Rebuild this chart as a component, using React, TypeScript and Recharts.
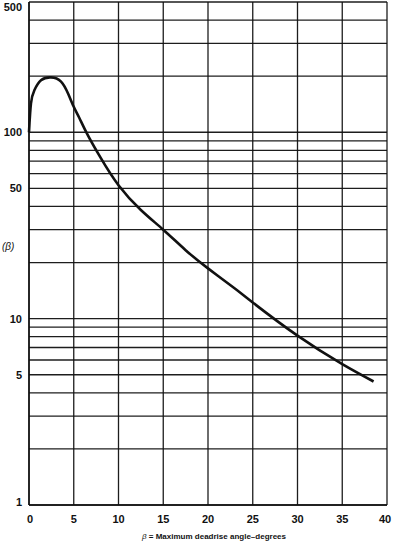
import { LineChart, Line, XAxis, YAxis, CartesianGrid } from "recharts";

// beta (degrees) vs. the function value
const betaDeg = [0, 0.22, 0.6, 1.34, 2.46, 3.58, 4.4, 5, 5.6, 6.45, 7.93, 10, 12.5, 15, 17.5, 20, 23, 25, 30, 35, 38.5];
const fValue = [100, 143, 168, 190, 197, 187, 160, 137, 120, 99, 74, 52, 38.3, 30, 23.3, 18.6, 14.5, 12.2, 8.1, 5.7, 4.6];

const xTicks = [0, 5, 10, 15, 20, 25, 30, 35, 40];
const yGrid = [1, 2, 3, 4, 5, 6, 7, 8, 9, 10, 20, 30, 40, 50, 60, 70, 80, 90, 100, 200, 300, 400, 500];
const yLabels = [1, 5, 10, 50, 100, 500];

const data = betaDeg.map((b, i) => ({ beta: b, value: fValue[i] }));

const FONT = "'Liberation Sans', Arial, sans-serif";

const YTick = ({ x, y, payload }: any) => {
  const v = payload.value;
  if (!yLabels.includes(v)) return null;
  const dy = v === 500 ? 5 : v === 1 ? -3 : 0;
  return (
    <text
      x={x + 1}
      y={y + dy}
      dy={4}
      textAnchor="end"
      fontFamily={FONT}
      fontWeight="bold"
      fontSize={11}
      fill="#111"
    >
      {v}
    </text>
  );
};

const XTick = ({ x, y, payload }: any) => {
  const v = payload.value;
  const dx = v === 40 ? -2 : v === 0 ? 1 : 0;
  return (
    <text
      x={x + dx}
      y={y + 10}
      textAnchor="middle"
      fontFamily={FONT}
      fontWeight="bold"
      fontSize={11}
      fill="#111"
    >
      {v}
    </text>
  );
};

export default function App() {
  return (
    <div style={{ position: "absolute", left: 0, top: 0, width: 393, height: 543, background: "#fff" }}>
      <LineChart width={393} height={543} data={data} margin={{ top: 2, right: 6, left: 0, bottom: 8 }}>
        <CartesianGrid stroke="#111" strokeWidth={1.3} strokeOpacity={0.95} />
        <XAxis
          dataKey="beta"
          type="number"
          domain={[0, 40]}
          ticks={xTicks}
          interval={0}
          height={30}
          axisLine={{ stroke: "#111", strokeWidth: 1.5 }}
          tickLine={false}
          tick={<XTick />}
        />
        <YAxis
          type="number"
          scale="log"
          domain={[1, 500]}
          allowDataOverflow
          ticks={yGrid}
          interval={0}
          width={29}
          axisLine={{ stroke: "#111", strokeWidth: 1.5 }}
          tickLine={false}
          tick={<YTick />}
        />
        <Line
          type="natural"
          dataKey="value"
          stroke="#111"
          strokeWidth={2.6}
          dot={false}
          isAnimationActive={false}
        />
        <text x={2} y={250} fontFamily={FONT} fontStyle="italic" fontSize={10} fill="#111">
          (β)
        </text>
        <text x={214} y={539} textAnchor="middle" fontFamily={FONT} fontSize={8} fill="#111">
          <tspan fontStyle="italic">β</tspan>
          <tspan fontWeight="bold"> = Maximum deadrise angle–degrees</tspan>
        </text>
      </LineChart>
    </div>
  );
}
